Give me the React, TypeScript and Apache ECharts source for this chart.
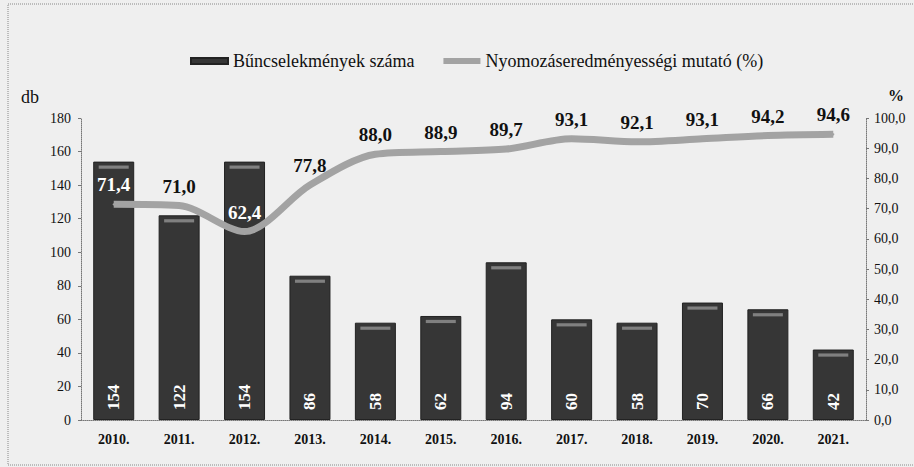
import React, { useEffect, useRef } from "react";
import * as echarts from "echarts";

const categories = ["2010.", "2011.", "2012.", "2013.", "2014.", "2015.", "2016.", "2017.", "2018.", "2019.", "2020.", "2021."];
const crimeCounts = [154, 122, 154, 86, 58, 62, 94, 60, 58, 70, 66, 42];
const clearanceRate = [71.4, 71.0, 62.4, 77.8, 88.0, 88.9, 89.7, 93.1, 92.1, 93.1, 94.2, 94.6];
const whiteLabelIdx = [0, 2];

const SERIF = '"Liberation Serif", "Times New Roman", serif';
const fmt = (v: number) => v.toFixed(1).replace(".", ",");
const legendText = { fontFamily: SERIF, fontSize: 18, color: "#111" };

export default function App() {
  const ref = useRef<HTMLDivElement>(null);
  useEffect(() => {
    document.body.style.margin = "0";
    if (!ref.current) return;
    const chart = echarts.init(ref.current, null, { renderer: "svg" });
    const lineData = clearanceRate.map((v, i) => ({
      value: v,
      label: {
        show: true,
        color: whiteLabelIdx.includes(i) ? "#ffffff" : "#111111",
      },
    }));
    chart.setOption({
      animation: false,
      backgroundColor: "#efefef",
      textStyle: { fontFamily: SERIF },
      legend: {
        left: 185,
        top: 47,
        itemWidth: 37,
        itemHeight: 6,
        itemGap: 29,
        textStyle: legendText,
        data: [
          { name: "Bűncselekmények száma", icon: "rect", textStyle: legendText },
          { name: "Nyomozáseredményességi mutató (%)", icon: "rect", textStyle: legendText },
        ],
      },
      grid: { left: 81, right: 48, top: 118, bottom: 47, containLabel: false },
      xAxis: {
        type: "category",
        data: categories,
        axisLine: { lineStyle: { color: "#777", type: "dotted" } },
        axisTick: { show: false },
        axisLabel: { fontFamily: SERIF, fontSize: 14, fontWeight: "bold", color: "#111", margin: 12 },
      },
      yAxis: [
        {
          type: "value",
          min: 0,
          max: 180,
          interval: 20,
          axisLine: { show: true, lineStyle: { color: "#777", type: "dotted" } },
          axisTick: { show: true, length: 3, lineStyle: { color: "#777" } },
          splitLine: { show: false },
          axisLabel: { fontFamily: SERIF, fontSize: 14, color: "#111", margin: 10 },
        },
        {
          type: "value",
          min: 0,
          max: 100,
          interval: 10,
          position: "right",
          axisLine: { show: true, lineStyle: { color: "#777", type: "dotted" } },
          axisTick: { show: true, length: 3, lineStyle: { color: "#777" } },
          splitLine: { show: false },
          axisLabel: { fontFamily: SERIF, fontSize: 14, color: "#111", margin: 8, formatter: (v: number) => fmt(v) },
        },
      ],
      series: [
        {
          name: "Bűncselekmények száma",
          type: "bar",
          yAxisIndex: 0,
          data: crimeCounts,
          barWidth: 41,
          barGap: "-100%",
          itemStyle: { color: "#363636", borderColor: "#222", borderWidth: 1 },
          label: {
            show: true,
            position: "insideBottom",
            rotate: 90,
            distance: 10,
            align: "left",
            verticalAlign: "middle",
            fontFamily: SERIF,
            fontSize: 17,
            fontWeight: "bold",
            color: "#ffffff",
          },
          z: 2,
        },
        {
          name: "highlight",
          type: "pictorialBar",
          yAxisIndex: 0,
          data: crimeCounts,
          barWidth: 41,
          barGap: "-100%",
          symbol: "rect",
          symbolSize: [30, 3],
          symbolPosition: "end",
          symbolOffset: [0, 4],
          itemStyle: { color: "#808080" },
          silent: true,
          z: 2.5,
        },
        {
          name: "Nyomozáseredményességi mutató (%)",
          type: "line",
          yAxisIndex: 1,
          data: lineData,
          smooth: 0.3,
          symbol: "circle",
          symbolSize: 2,
          showSymbol: true,
          lineStyle: { color: "#a3a3a3", width: 7 },
          itemStyle: { color: "#a3a3a3" },
          label: {
            show: true,
            position: "top",
            distance: 9,
            fontFamily: SERIF,
            fontSize: 19,
            fontWeight: "bold",
            formatter: (p: any) => fmt(p.value),
          },
          z: 3,
        },
      ],
      graphic: [
        {
          type: "rect",
          shape: { x: 8, y: 4, width: 920, height: 461 },
          style: { fill: "none", stroke: "#888", lineWidth: 1, lineDash: [1, 1] },
          silent: true,
        },
        {
          type: "text",
          left: 21,
          top: 88,
          style: { text: "db", fontFamily: SERIF, fontSize: 18, fill: "#111" },
        },
        {
          type: "text",
          left: 888,
          top: 87,
          style: { text: "%", fontFamily: SERIF, fontSize: 16, fontWeight: "bold", fill: "#111" },
        },
      ],
    });
    return () => chart.dispose();
  }, []);
  return <div ref={ref} style={{ width: 914, height: 467 }} />;
}
